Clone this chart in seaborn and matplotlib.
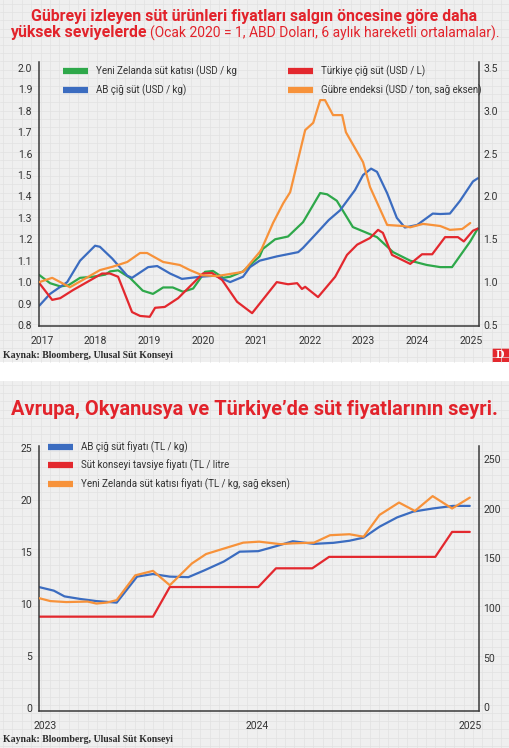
import numpy as np
import matplotlib
matplotlib.use("Agg")
import matplotlib.pyplot as plt
import seaborn as sns
from matplotlib.lines import Line2D
from matplotlib.patches import Rectangle

# ---- Üst grafik (Ocak 2020 = 1, USD, 6 aylık hareketli ortalama) ----
nz_yil = [2016.95, 2017.15, 2017.34, 2017.49, 2017.71, 2017.95, 2018.18, 2018.27, 2018.42, 2018.64,
          2018.88, 2019.07, 2019.26, 2019.44, 2019.63, 2019.82, 2020.04, 2020.19, 2020.38, 2020.51,
          2020.75, 2021.06, 2021.12, 2021.35, 2021.59, 2021.87, 2022.19, 2022.32, 2022.50, 2022.80,
          2023.06, 2023.25, 2023.55, 2023.87, 2024.18, 2024.43, 2024.65, 2024.99, 2025.13]
nz_usd = [1.033, 0.995, 0.98, 0.985, 1.02, 1.025, 1.035, 1.05, 1.055, 1.02,
          0.96, 0.945, 0.975, 0.975, 0.955, 0.97, 1.048, 1.052, 1.02, 1.025,
          1.05, 1.12, 1.155, 1.20, 1.213, 1.28, 1.416, 1.41, 1.38, 1.257,
          1.23, 1.21, 1.14, 1.10, 1.08, 1.07, 1.07, 1.19, 1.25]

ab_yil = [2016.95, 2017.15, 2017.47, 2017.71, 2017.99, 2018.08, 2018.31, 2018.59, 2018.68, 2018.98,
          2019.15, 2019.39, 2019.61, 2019.95, 2020.23, 2020.51, 2020.75, 2020.88, 2021.06, 2021.38,
          2021.78, 2021.87, 2022.13, 2022.35, 2022.56, 2022.84, 2022.99, 2023.14, 2023.25, 2023.44,
          2023.62, 2023.77, 2024.00, 2024.29, 2024.43, 2024.61, 2024.80, 2025.04, 2025.13]
ab_usd = [0.89, 0.945, 1.00, 1.10, 1.17, 1.165, 1.11, 1.03, 1.02, 1.07,
          1.075, 1.04, 1.015, 1.025, 1.03, 1.00, 1.025, 1.07, 1.10, 1.12,
          1.14, 1.16, 1.23, 1.29, 1.335, 1.43, 1.50, 1.53, 1.515, 1.415,
          1.30, 1.255, 1.267, 1.32, 1.318, 1.32, 1.38, 1.47, 1.485]

tr_yil = [2016.95, 2017.19, 2017.34, 2017.58, 2017.84, 2018.12, 2018.27, 2018.42, 2018.68, 2018.83,
          2019.01, 2019.11, 2019.29, 2019.54, 2019.82, 2020.00, 2020.17, 2020.36, 2020.64, 2020.92,
          2021.38, 2021.59, 2021.76, 2021.85, 2021.91, 2022.15, 2022.47, 2022.69, 2022.88, 2023.12,
          2023.27, 2023.36, 2023.53, 2023.87, 2024.09, 2024.28, 2024.52, 2024.76, 2024.87, 2025.04,
          2025.13]
tr_usd = [0.995, 0.917, 0.925, 0.963, 1.00, 1.04, 1.04, 1.025, 0.86, 0.842,
          0.838, 0.88, 0.884, 0.925, 0.995, 1.04, 1.043, 1.01, 0.908, 0.855,
          1.00, 0.99, 0.995, 0.968, 0.978, 0.93, 1.025, 1.127, 1.175, 1.206,
          1.244, 1.23, 1.127, 1.085, 1.13, 1.13, 1.21, 1.21, 1.19, 1.24,
          1.25]

# gübre endeksi sağ eksende
gubre_yil = [2016.95, 2017.19, 2017.34, 2017.52, 2017.76, 2018.08, 2018.32, 2018.59, 2018.83, 2018.96,
             2019.26, 2019.57, 2019.76, 2019.99, 2020.26, 2020.51, 2020.75, 2021.06, 2021.10, 2021.31,
             2021.50, 2021.63, 2021.91, 2022.06, 2022.19, 2022.28, 2022.43, 2022.60, 2022.67, 2022.99,
             2023.12, 2023.44, 2023.74, 2023.87, 2024.11, 2024.43, 2024.61, 2024.84, 2024.99]
gubre = [1.00, 1.05, 1.00, 0.94, 1.025, 1.14, 1.18, 1.235, 1.34, 1.34,
         1.235, 1.20, 1.14, 1.08, 1.07, 1.095, 1.12, 1.35, 1.39, 1.69,
         1.92, 2.05, 2.775, 2.86, 3.125, 3.125, 2.95, 2.95, 2.75, 2.40,
         2.11, 1.667, 1.655, 1.64, 1.68, 1.655, 1.61, 1.62, 1.69]

ust_yillar = [2017, 2018, 2019, 2020, 2021, 2022, 2023, 2024, 2025]
ust_sol_tik = [0.8, 0.9, 1.0, 1.1, 1.2, 1.3, 1.4, 1.5, 1.6, 1.7, 1.8, 1.9, 2.0]
ust_sag_tik = [0.5, 1.0, 1.5, 2.0, 2.5, 3.0, 3.5]

# ---- Alt grafik (TL, Ocak 2023'ten itibaren ay) ----
ab_tl_ay = [-0.35, 0.5, 1.1, 2.0, 2.9, 4.05, 5.2, 6.1, 7.05, 8.1,
            9.0, 10.1, 11.0, 12.05, 13.0, 14.0, 15.2, 16.3, 17.2, 18.0,
            18.9, 19.9, 20.8, 21.9, 23.05, 24.0]
ab_tl = [11.6, 11.25, 10.7, 10.45, 10.25, 10.1, 12.6, 12.85, 12.6, 12.55,
         13.2, 14.05, 15.0, 15.05, 15.5, 16.0, 15.75, 15.85, 16.05, 16.35,
         17.4, 18.3, 18.85, 19.15, 19.4, 19.4]

usk_ay = [-0.35, 6.1, 7.05, 12.05, 13.05, 15.1, 16.05, 22.05, 23.0, 24.0]
usk_tl = [8.75, 8.75, 11.6, 11.6, 13.4, 13.4, 14.5, 14.5, 16.9, 16.9]

nz_tl_ay = [-0.35, 0.3, 1.2, 2.4, 2.9, 3.5, 4.05, 5.1, 6.1, 7.05,
            8.3, 9.1, 10.1, 11.2, 12.1, 13.3, 14.0, 15.2, 16.1, 17.2,
            18.0, 18.9, 20.0, 20.9, 21.9, 23.0, 24.0]
nz_tl = [110, 107, 106, 106.5, 104.5, 105.5, 108, 133, 137.5, 123,
         145, 154.5, 160, 166, 167, 164.5, 165.3, 166, 173.5, 174.5,
         172, 194, 206.5, 198, 213, 200.5, 211.5]

alt_yil_ay = [0, 12, 24]
alt_yil_etiket = ['2023', '2024', '2025']
alt_sol_tik = [0, 5, 10, 15, 20, 25]
alt_sag_tik = [0, 50, 100, 150, 200, 250]

YESIL = '#2ea84a'
MAVI = '#3b6cc0'
KIRMIZI = '#e3282e'
TURUNCU = '#f7923a'
BASLIK = '#e2232b'
ARKA = '#efefef'
IZGARA = '#e1e1e1'
YAZI = '#333333'
CIZGI = 1.6

sns.set_style('white')
plt.rcParams['font.family'] = ['Roboto', 'DejaVu Sans']

fig = plt.figure(figsize=(5.09, 7.48), dpi=100)
fig.patch.set_facecolor('white')


def fx(x):
    return x / 509


def fy(y):
    return 1 - y / 748


# arka plan: kareli kağıt görünümü
bg = fig.add_axes([0, 0, 1, 1], zorder=-5)
bg.set_xlim(0, 509)
bg.set_ylim(748, 0)
bg.axis('off')
for y0, y1 in [(0, 362), (381, 748)]:
    bg.add_patch(Rectangle((0, y0), 509, y1 - y0, color=ARKA, lw=0))
    for gx in np.arange(3, 509, 9.4):
        bg.plot([gx, gx], [y0, y1], color=IZGARA, lw=0.5)
    for gy in np.arange(y0 + 4, y1, 8.2):
        bg.plot([0, 509], [gy, gy], color=IZGARA, lw=0.5)

# D logosu
bg.add_patch(Rectangle((492, 348), 17, 14, color=KIRMIZI, lw=0))
bg.text(500.5, 355, 'D', ha='center', va='center', color='white', weight='bold',
        family=['Liberation Serif', 'DejaVu Serif'], size=8.5)


def eksen_duzenle(ax, axr):
    ax.set_facecolor('none')
    ax.spines['top'].set_visible(False)
    ax.spines['right'].set_visible(False)
    axr.spines['top'].set_visible(False)
    axr.spines['left'].set_visible(False)
    axr.spines['bottom'].set_visible(False)
    for s in [ax.spines['left'], ax.spines['bottom'], axr.spines['right']]:
        s.set_color('#3a3a3a')
        s.set_linewidth(1.1)
    ax.tick_params(axis='x', length=0, pad=7, labelsize=7.5, labelcolor=YAZI)
    ax.tick_params(axis='y', length=0, pad=5, labelsize=7.5, labelcolor=YAZI)
    axr.tick_params(axis='y', length=0, pad=3, labelsize=7.5, labelcolor=YAZI)
    for a in (ax, axr):
        a.set_xlabel('')
        a.set_ylabel('')


def cubuk(c):
    return Line2D([0], [0], color=c, lw=4.5, solid_capstyle='butt')


# ---------------- Üst grafik ----------------
ax1 = fig.add_axes([fx(39), fy(326), fx(479) - fx(39), fy(62) - fy(326)])
ax1r = ax1.twinx()
sns.lineplot(x=nz_yil, y=nz_usd, ax=ax1, color=YESIL, lw=CIZGI, legend=False)
sns.lineplot(x=ab_yil, y=ab_usd, ax=ax1, color=MAVI, lw=CIZGI, legend=False)
sns.lineplot(x=tr_yil, y=tr_usd, ax=ax1, color=KIRMIZI, lw=CIZGI, legend=False)
sns.lineplot(x=gubre_yil, y=gubre, ax=ax1r, color=TURUNCU, lw=CIZGI, legend=False)

ax1.set_xlim(2016.944, 2025.153)
ax1.set_ylim(0.795, 2.028)
ax1r.set_ylim(0.4875, 3.57)
ax1.set_xticks(ust_yillar)
ax1.set_xticklabels([str(y) for y in ust_yillar])
ax1.set_yticks(ust_sol_tik)
ax1.set_yticklabels([f'{v:.1f}' for v in ust_sol_tik])
ax1r.set_yticks(ust_sag_tik)
ax1r.set_yticklabels([f'{v:.1f}' for v in ust_sag_tik])
eksen_duzenle(ax1, ax1r)

leg_ops = dict(loc='center left', frameon=False, fontsize=7.0, handlelength=2.6,
               handletextpad=0.75, labelspacing=0.72, borderpad=0, borderaxespad=0,
               labelcolor=YAZI)
fig.legend([cubuk(YESIL), cubuk(MAVI)],
           ['Yeni Zelanda süt katısı (USD / kg', 'AB çiğ süt (USD / kg)'],
           bbox_to_anchor=(fx(63), fy(80.5)), **leg_ops)
fig.legend([cubuk(KIRMIZI), cubuk(TURUNCU)],
           ['Türkiye çiğ süt (USD / L)', 'Gübre endeksi (USD / ton, sağ eksen)'],
           bbox_to_anchor=(fx(288), fy(80.5)), **leg_ops)

fig.text(fx(254.5), fy(16), 'Gübreyi izleyen süt ürünleri fiyatları salgın öncesine göre daha',
         ha='center', va='center', size=11.4, weight='bold', color=BASLIK)
fig.text(fx(147), fy(33), 'yüksek seviyelerde', ha='right', va='center', size=11.4,
         weight='bold', color=BASLIK)
fig.text(fx(150), fy(33), '(Ocak 2020 = 1, ABD Doları, 6 aylık hareketli ortalamalar).',
         ha='left', va='center', size=10, color=BASLIK)

kaynak_font = dict(size=7.0, weight='bold', color='#2a2a2a',
                   family=['Liberation Serif', 'DejaVu Serif'])
fig.text(fx(3), fy(355), 'Kaynak: Bloomberg, Ulusal Süt Konseyi', ha='left', va='center',
         **kaynak_font)

# ---------------- Alt grafik ----------------
ax2 = fig.add_axes([fx(39), fy(711), fx(479) - fx(39), fy(446) - fy(711)])
ax2r = ax2.twinx()
sns.lineplot(x=ab_tl_ay, y=ab_tl, ax=ax2, color=MAVI, lw=CIZGI, legend=False)
sns.lineplot(x=usk_ay, y=usk_tl, ax=ax2, color=KIRMIZI, lw=CIZGI, legend=False)
sns.lineplot(x=nz_tl_ay, y=nz_tl, ax=ax2r, color=TURUNCU, lw=CIZGI, legend=False)

ax2.set_xlim(-0.34, 24.52)
ax2.set_ylim(-0.32, 25.16)
ax2r.set_ylim(-4.0, 263.6)
ax2.set_xticks(alt_yil_ay)
ax2.set_xticklabels(alt_yil_etiket)
ax2.set_yticks(alt_sol_tik)
ax2.set_yticklabels([str(v) for v in alt_sol_tik])
ax2r.set_yticks(alt_sag_tik)
ax2r.set_yticklabels([str(v) for v in alt_sag_tik])
eksen_duzenle(ax2, ax2r)

fig.legend([cubuk(MAVI), cubuk(KIRMIZI), cubuk(TURUNCU)],
           ['AB çiğ süt fiyatı (TL / kg)', 'Süt konseyi tavsiye fiyatı (TL / litre',
            'Yeni Zelanda süt katısı fiyatı (TL / kg, sağ eksen)'],
           bbox_to_anchor=(fx(48), fy(465.5)), **leg_ops)

fig.text(fx(254.5), fy(409), 'Avrupa, Okyanusya ve Türkiye’de süt fiyatlarının seyri.',
         ha='center', va='center', size=14.4, weight='bold', color=BASLIK)
fig.text(fx(3), fy(739), 'Kaynak: Bloomberg, Ulusal Süt Konseyi', ha='left', va='center',
         **kaynak_font)

fig.savefig('out.png', dpi=100)
